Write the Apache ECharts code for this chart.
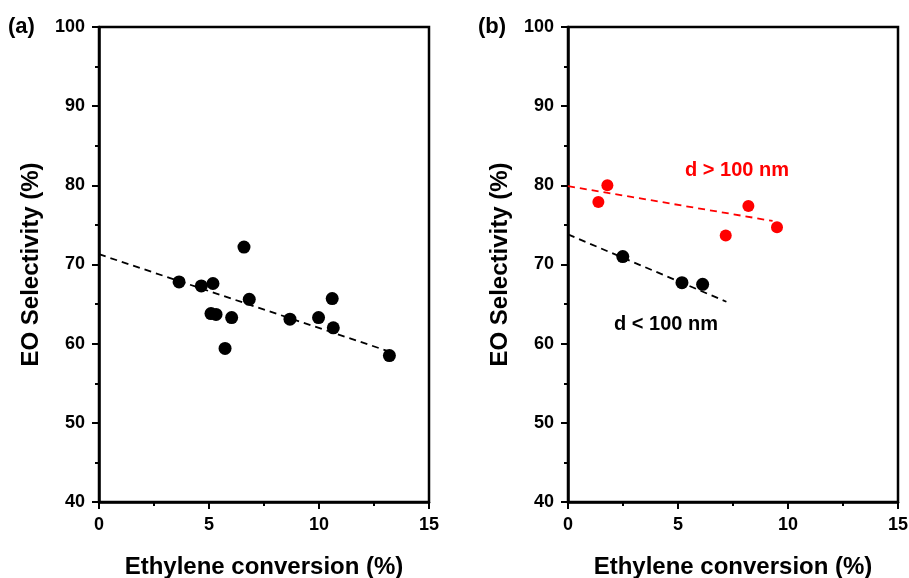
<!DOCTYPE html>
<html>
<head>
<meta charset="utf-8">
<script src="https://cdn.jsdelivr.net/npm/echarts@6/dist/echarts.min.js"></script>
<style>
  html, body { margin: 0; padding: 0; background: #fff; }
  #chart { width: 909px; height: 578px; }
</style>
</head>
<body>
<div id="chart"></div>
<script>
// panel (a): all catalysts
const convA = [3.64, 4.65, 5.18, 6.59, 6.83, 5.09, 5.32, 6.03, 5.73, 8.68, 9.98, 10.6, 10.65, 13.2];
const selA = [67.8, 67.3, 67.6, 72.2, 65.6, 63.8, 63.7, 63.3, 59.4, 63.1, 63.3, 65.7, 62.0, 58.5];
const fitA = [[0, 71.3], [13.2, 59.0]];

// panel (b): split by particle size
const convBig = [1.38, 1.79, 7.17, 8.2, 9.5];
const selBig = [77.9, 80.0, 73.65, 77.4, 74.7];
const fitBig = [[0, 79.9], [9.3, 75.5]];
const convSmall = [2.49, 5.18, 6.12];
const selSmall = [71.0, 67.7, 67.5];
const fitSmall = [[0, 73.8], [7.2, 65.3]];

const font = "'Liberation Sans', Arial, sans-serif";
const chart = echarts.init(document.getElementById("chart"));

const pair = (xs, ys) => xs.map((x, i) => [x, ys[i]]);

const xAxisCfg = (gridIndex) => ({
  gridIndex,
  type: "value",
  min: 0,
  max: 15,
  interval: 5,
  name: "Ethylene conversion (%)",
  nameLocation: "middle",
  nameGap: 53,
  nameTextStyle: { fontFamily: font, fontWeight: "bold", fontSize: 24, color: "#000" },
  axisLine: { lineStyle: { color: "#000", width: 2.5 } },
  axisTick: { length: 7, lineStyle: { color: "#000", width: 2 } },
  minorTick: { show: true, splitNumber: 2, length: 4, lineStyle: { color: "#000", width: 2 } },
  axisLabel: { fontFamily: font, fontWeight: "bold", fontSize: 18, color: "#000", margin: 14 },
  splitLine: { show: false },
});

const yAxisCfg = (gridIndex) => ({
  gridIndex,
  type: "value",
  min: 40,
  max: 100,
  interval: 10,
  name: "EO Selectivity (%)",
  nameLocation: "middle",
  nameGap: 56,
  nameTextStyle: { fontFamily: font, fontWeight: "bold", fontSize: 24, color: "#000" },
  axisLine: { lineStyle: { color: "#000", width: 2.5 } },
  axisTick: { length: 7, lineStyle: { color: "#000", width: 2 } },
  minorTick: { show: true, splitNumber: 2, length: 4, lineStyle: { color: "#000", width: 2 } },
  axisLabel: { fontFamily: font, fontWeight: "bold", fontSize: 18, color: "#000", margin: 14 },
  splitLine: { show: false },
});

const fitLine = (xi, data, color) => ({
  type: "line",
  xAxisIndex: xi,
  yAxisIndex: xi,
  data,
  symbol: "none",
  silent: true,
  lineStyle: { color, width: 1.8, type: [7, 5] },
  z: 1,
});

const dots = (xi, data, color, size) => ({
  type: "scatter",
  xAxisIndex: xi,
  yAxisIndex: xi,
  data,
  symbolSize: size,
  itemStyle: { color, opacity: 1 },
  z: 3,
});

chart.setOption({
  animation: false,
  grid: [
    { left: 99, top: 27, width: 330, height: 475, outerBoundsMode: "none", show: true, borderColor: "#000", borderWidth: 2.5 },
    { left: 568, top: 27, width: 330, height: 475, outerBoundsMode: "none", show: true, borderColor: "#000", borderWidth: 2.5 },
  ],
  xAxis: [xAxisCfg(0), xAxisCfg(1)],
  yAxis: [yAxisCfg(0), yAxisCfg(1)],
  graphic: [
    { type: "text", left: 8, top: 16, style: { text: "(a)", fontFamily: font, fontWeight: "bold", fontSize: 22, fill: "#000" } },
    { type: "text", left: 478, top: 16, style: { text: "(b)", fontFamily: font, fontWeight: "bold", fontSize: 22, fill: "#000" } },
    { type: "text", left: 685, top: 160, style: { text: "d > 100 nm", fontFamily: font, fontWeight: "bold", fontSize: 20, fill: "#ff0000" } },
    { type: "text", left: 614, top: 314, style: { text: "d < 100 nm", fontFamily: font, fontWeight: "bold", fontSize: 20, fill: "#000" } },
  ],
  series: [
    fitLine(0, fitA, "#000"),
    dots(0, pair(convA, selA), "#000", 13),
    fitLine(1, fitBig, "#ff0000"),
    fitLine(1, fitSmall, "#000"),
    dots(1, pair(convBig, selBig), "#ff0000", 12),
    dots(1, pair(convSmall, selSmall), "#000", 13),
  ],
});
</script>
</body>
</html>
